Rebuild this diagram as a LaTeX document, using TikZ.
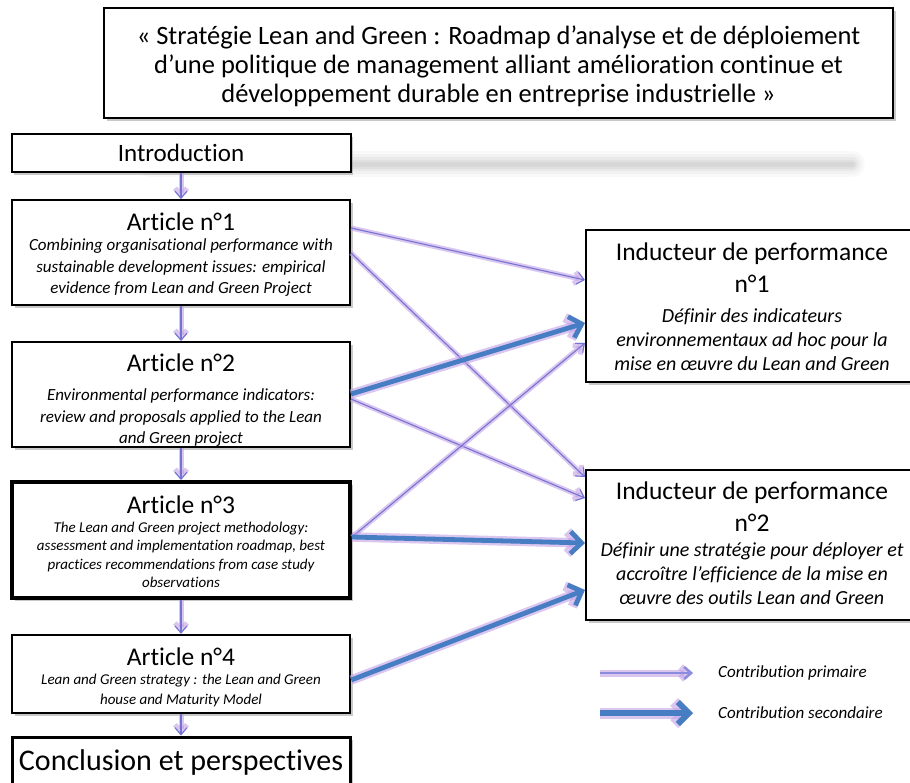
\documentclass[tikz,border=0pt]{standalone}
\usepackage{fontspec}
\setmainfont{Carlito}[Ligatures={TeX,NoCommon}]
\usetikzlibrary{arrows.meta,shadows,calc}
\definecolor{primc}{RGB}{115,115,210}
\definecolor{glowc}{RGB}{195,160,230}
\definecolor{secc}{RGB}{70,125,195}
\definecolor{legprim}{RGB}{140,140,222}
\tikzset{
  box/.style={draw=black, line width=2pt, fill=white, inner sep=0pt,
    drop shadow={shadow xshift=2.5pt, shadow yshift=-2.5pt, opacity=.35, fill=black!60}},
  bigtxt/.style={font=\fontsize{25.5pt}{31pt}\selectfont, align=center, inner sep=0pt},
  smalltxt/.style={font=\fontsize{17pt}{21.5pt}\selectfont\itshape, align=center, inner sep=0pt},
  tinytxt/.style={font=\fontsize{15pt}{18.5pt}\selectfont\itshape, align=center, inner sep=0pt},
  rtxt/.style={font=\fontsize{20pt}{24pt}\selectfont\itshape, align=center, inner sep=0pt},
  legtxt/.style={font=\fontsize{17pt}{20pt}\selectfont\itshape, anchor=west, inner sep=0pt},
  primglow/.style={draw=glowc, opacity=.6, line width=5pt, -{Straight Barb[length=7pt,width=12pt]}},
  primline/.style={draw=primc, line width=1.1pt, -{Straight Barb[length=7pt,width=12pt]}},
  secglow/.style={draw=glowc, opacity=.6, line width=9.5pt, -{Straight Barb[length=11pt,width=22pt]}},
  secline/.style={draw=secc, line width=4.8pt, -{Straight Barb[length=11pt,width=22pt]}},
}
\newcommand{\primarr}[2]{\draw[primglow] #1 -- #2; \draw[primline] #1 -- #2;}
\newcommand{\secarr}[2]{\draw[secglow] #1 -- #2; \draw[secline] #1 -- #2;}
\begin{document}
\begin{tikzpicture}[x=1pt,y=-1pt]
\useasboundingbox (0,0) rectangle (910,782);
\clip (0,0) rectangle (910,782);
\fill[white] (0,0) rectangle (910,782);

% grey smear
\foreach \w/\o in {26/0.05,20/0.07,14/0.09,9/0.11,5/0.12}
  \draw[line width=\w pt, black!40, opacity=\o, line cap=round] (150,164) -- (852,164);

% title
\node[box, minimum width=789pt, minimum height=110pt] (title) at (498.5,63) {};
\node[align=center, inner sep=0pt, font=\fontsize{26.5pt}{28.8pt}\selectfont] (titlet) at (498.5,66)
  {« Stratégie Lean and Green : Roadmap d’analyse et de déploiement\\
   d’une politique de management alliant amélioration continue et\\
   développement durable en entreprise industrielle »};

% left column
\node[box, minimum width=339pt, minimum height=38pt, font=\fontsize{25pt}{30pt}\selectfont] (intro) at (181,153) {Introduction};

\node[box, minimum width=338pt, minimum height=105pt] (a1) at (181,252.5) {};
\node[bigtxt] (a1t) at (181,222) {Article n°1};
\node[smalltxt] (a1b) at (181,268) {Combining organisational performance with\\ sustainable development issues: empirical\\ evidence from Lean and Green Project};

\node[box, minimum width=338pt, minimum height=105pt] (a2) at (181,394.5) {};
\node[bigtxt] (a2t) at (181,363) {Article n°2};
\node[smalltxt] (a2b) at (181,418) {Environmental performance indicators:\\ review and proposals applied to the Lean\\ and Green project};

\node[box, line width=4pt, minimum width=338pt, minimum height=116pt] (a3) at (181,540) {};
\node[bigtxt] (a3t) at (181,505) {Article n°3};
\node[tinytxt] (a3b) at (181,555) {The Lean and Green project methodology:\\ assessment and implementation roadmap, best\\ practices recommendations from case study\\ observations};

\node[box, line width=2.5pt, minimum width=338pt, minimum height=78pt] (a4) at (181,674) {};
\node[bigtxt] (a4t) at (181,657) {Article n°4};
\node[tinytxt, font=\fontsize{15pt}{20pt}\selectfont\itshape] (a4b) at (181,690) {Lean and Green strategy : the Lean and Green\\ house and Maturity Model};

\node[box, line width=3pt, minimum width=338pt, minimum height=64pt] (conc) at (181,769) {};
\node[inner sep=0pt, font=\fontsize{30pt}{34pt}\selectfont] (conct) at (181,762) {Conclusion et perspectives};

% right column
\node[box, line width=2.2pt, minimum width=328pt, minimum height=152pt] (i1) at (750,306) {};
\node[bigtxt, font=\fontsize{25.5pt}{32pt}\selectfont] (i1t) at (752,268) {Inducteur de performance\\ n°1};
\node[rtxt] (i1b) at (752,340) {Définir des indicateurs\\ environnementaux ad hoc pour la\\ mise en œuvre du Lean and Green};

\node[box, line width=2.2pt, minimum width=328pt, minimum height=150pt] (i2) at (750,545) {};
\node[bigtxt, font=\fontsize{25.5pt}{32pt}\selectfont] (i2t) at (752,507) {Inducteur de performance\\ n°2};
\node[rtxt] (i2b) at (752,574) {Définir une stratégie pour déployer et\\ accroître l'efficience de la mise en\\ œuvre des outils Lean and Green};

% vertical flow
\primarr{(intro)}{(a1)}
\primarr{(a1)}{(a2)}
\primarr{(a2)}{(a3)}
\primarr{(a3)}{(a4)}
\primarr{(a4)}{(conc)}

% primary contributions
\primarr{(a1.east |- 0,228)}{(i1.west |- 0,280)}
\primarr{(a1.east |- 0,253)}{(i2.west |- 0,477)}
\primarr{(a2.east |- 0,399)}{(i2.west |- 0,498)}
\primarr{(a3.east |- 0,537)}{(i1.west |- 0,343)}

% secondary contributions
\secarr{(a2.east |- 0,394)}{(i1.west |- 0,323)}
\secarr{(a3.east |- 0,537)}{(i2.west |- 0,543)}
\secarr{(a4.east |- 0,680)}{(i2.west |- 0,590)}

% legend
\coordinate (lp1) at (600,673);
\coordinate (lp2) at (693,673);
\coordinate (ls1) at (600,713);
\coordinate (ls2) at (693,713);
\draw[primglow, line width=7pt] (lp1) -- (lp2);
\draw[primline, draw=legprim, line width=2.5pt] (lp1) -- (lp2);
\draw[secglow, line width=11pt] (ls1) -- (ls2);
\draw[secline, line width=6pt] (ls1) -- (ls2);
\node[legtxt] (lt1) at (718,673) {Contribution primaire};
\node[legtxt] (lt2) at (718,713) {Contribution secondaire};
\end{tikzpicture}
\end{document}
